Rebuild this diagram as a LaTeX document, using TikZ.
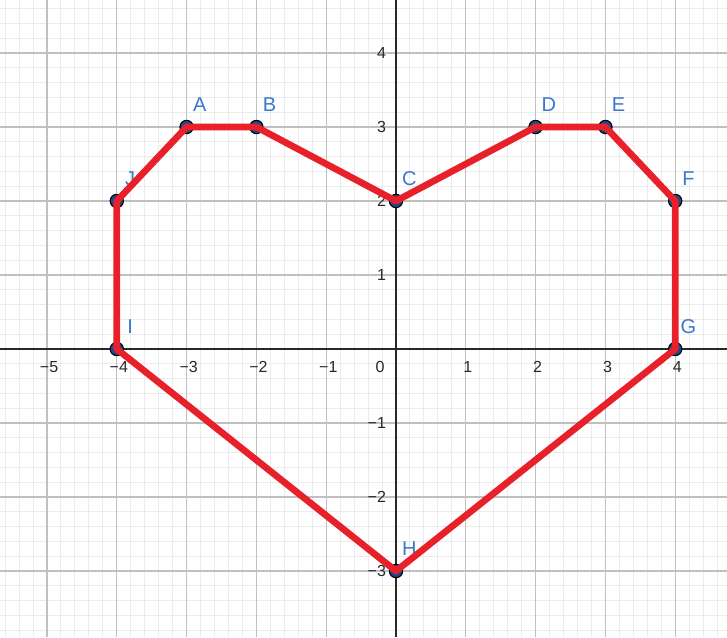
\documentclass[tikz,border=0pt]{standalone}
\usepackage{fontspec}
\setmainfont{Liberation Sans}
\usetikzlibrary{calc}
\definecolor{minorc}{RGB}{236,236,236}
\definecolor{majorc}{RGB}{192,192,192}
\definecolor{axisc}{RGB}{40,40,40}
\definecolor{polyred}{RGB}{232,32,42}
\definecolor{ptblue}{RGB}{28,72,140}
\definecolor{lblblue}{RGB}{58,120,204}
\tikzset{
  minorline/.style={draw=minorc, line width=0.75pt},
  majorline/.style={draw=majorc, line width=0.9pt},
  axisline/.style={draw=axisc, line width=1pt},
  ticklbl/.style={text=axisc, font=\fontsize{12}{12}\selectfont, inner sep=0pt},
  ptlbl/.style={text=lblblue, font=\fontsize{15}{15}\selectfont, inner sep=0pt},
  ptdot/.style={circle, fill=ptblue, draw=black, line width=0.8pt, minimum size=10pt, inner sep=0pt},
  heart/.style={draw=polyred, line width=5pt, line join=round, line cap=round}
}
\begin{document}
\begin{tikzpicture}[x=52.35pt, y=55.5pt]
\useasboundingbox (-5.673,-3.892) rectangle (4.742,4.716);
\fill[white] (-5.673,-3.892) rectangle (4.742,4.716);
% minor grid
\foreach \i in {-28,...,23} {
  \draw[minorline] (\i*0.2,-3.892) -- (\i*0.2,4.716);
}
\foreach \j in {-19,...,23} {
  \draw[minorline] (-5.673,\j*0.2) -- (4.742,\j*0.2);
}
% major grid
\foreach \i in {-5,...,4} {
  \draw[majorline] (\i,-3.892) -- (\i,4.716);
}
\foreach \j in {-3,...,4} {
  \draw[majorline] (-5.673,\j) -- (4.742,\j);
}
% axes
\draw[axisline] (-5.673,0) -- (4.742,0);
\draw[axisline] (0,-3.892) -- (0,4.716);
% tick labels
\foreach \i/\t in {-5/−5,-4/−4,-3/−3,-2/−2,-1/−1,1/1,2/2,3/3,4/4} {
  \node[ticklbl] (xt\i) at (\i+0.03,-0.243) {\t};
}
\node[ticklbl] (xt0) at (-0.229,-0.243) {0};
\foreach \j/\t in {-3/−3,-2/−2,-1/−1,1/1,2/2,3/3,4/4} {
  \node[ticklbl, anchor=east] (yt\j) at (-0.14,\j) {\t};
}
% points
\coordinate (A) at (-3,3);
\coordinate (B) at (-2,3);
\coordinate (C) at (0,2);
\coordinate (D) at (2,3);
\coordinate (E) at (3,3);
\coordinate (F) at (4,2);
\coordinate (G) at (4,0);
\coordinate (H) at (0,-3);
\coordinate (I) at (-4,0);
\coordinate (J) at (-4,2);
\foreach \p in {A,B,C,D,E,F,G,H,I,J} {
  \node[ptdot] (dot\p) at (\p) {};
  \node[ptlbl] (lbl\p) at ($(\p)+(0.19,0.30)$) {\p};
}
% polygon
\draw[heart] (A) -- (B) -- (C) -- (D) -- (E) -- (F) -- (G) -- (H) -- (I) -- (J) -- cycle;
\end{tikzpicture}
\end{document}
